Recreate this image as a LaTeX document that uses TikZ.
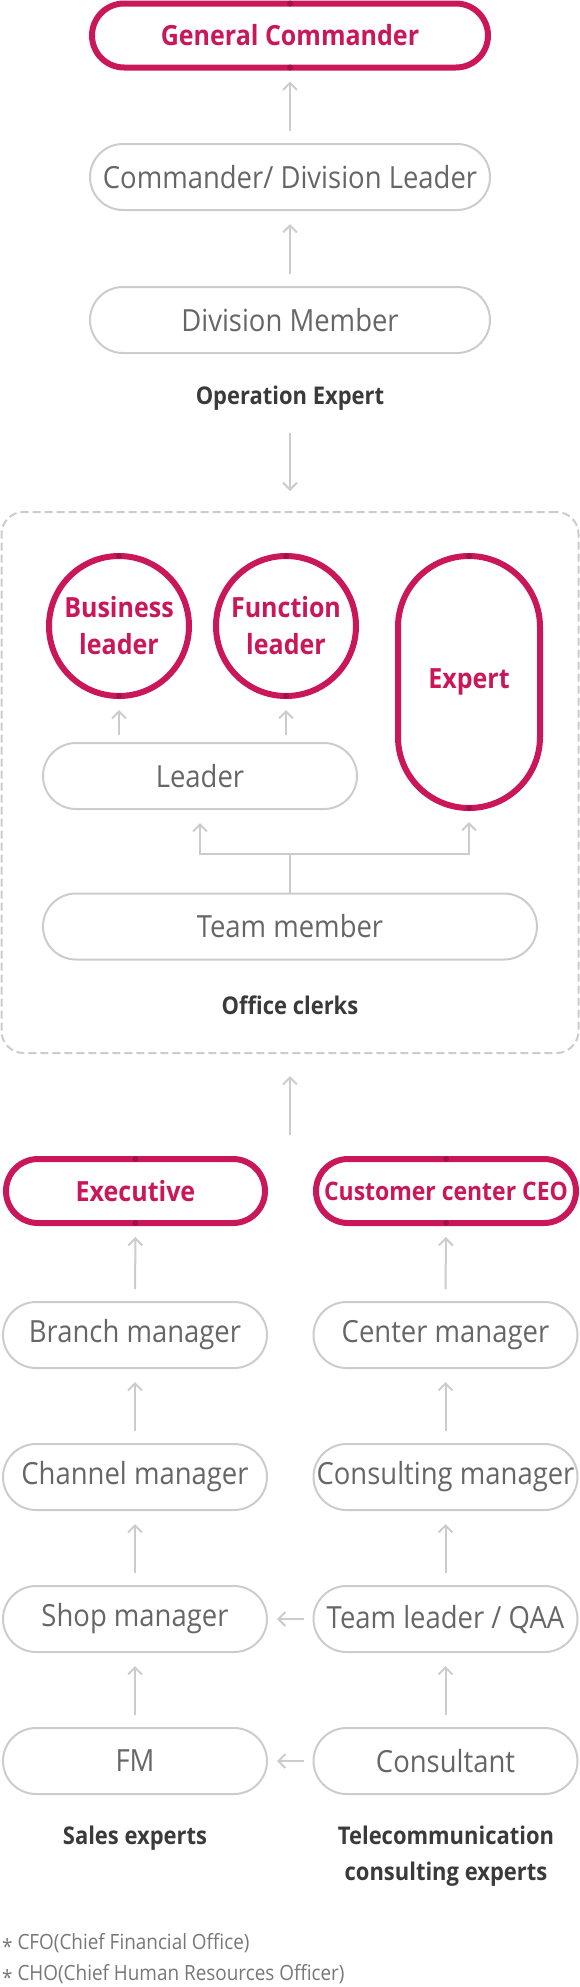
\documentclass[tikz,border=0pt]{standalone}
\usepackage{fontspec}
\setmainfont{Open Sans}[FakeStretch=0.9]
\usetikzlibrary{arrows.meta}
\definecolor{lgMagenta}{HTML}{C9175A}
\definecolor{lgDot}{HTML}{A3104A}
\definecolor{lgLine}{HTML}{CCCCCC}
\definecolor{lgText}{HTML}{666666}
\definecolor{lgLabel}{HTML}{3A3A3A}
\definecolor{lgNote}{HTML}{777777}

\begin{document}
\begin{tikzpicture}[x=1pt, y=-1pt, >={Straight Barb[length=7pt,width=14pt]},
  graybox/.style={draw=lgLine, line width=2pt, rounded corners=33pt, minimum height=66pt,
    inner sep=0pt, outer sep=0pt, text=lgText, font=\fontsize{30.5}{36}\selectfont},
  pinkbox/.style={draw=lgMagenta, line width=6pt, rounded corners=32pt, minimum height=64pt,
    inner sep=0pt, outer sep=0pt, text=lgMagenta, font=\fontsize{27.8}{37}\selectfont\bfseries},
  pinkround/.style={pinkbox, circle, sharp corners, minimum size=140pt, align=center},
  grouplabel/.style={text=lgLabel, font=\fontsize{24.4}{36}\selectfont\bfseries, align=center},
  notetext/.style={text=lgNote, font=\fontsize{21}{30}\selectfont, anchor=west, inner sep=0pt},
  uparrow/.style={->, draw=lgLine, line width=2pt, shorten <=13pt, shorten >=14pt}]
  \useasboundingbox (0,0) rectangle (580,1987);

  \node[pinkbox, minimum width=396pt] (gc) at (290,35.5) {General Commander};
  \node[graybox, minimum width=400pt] (cdl) at (290,177) {Commander/ Division Leader};
  \node[graybox, minimum width=400pt] (dm) at (290,320) {Division Member};
  \node[grouplabel] (opex) at (290,398) {Operation Expert};

  \node[draw=lgLine, line width=2pt, dash pattern=on 8pt off 4pt, rounded corners=22pt,
    minimum width=577pt, minimum height=541pt, outer sep=0pt] (office) at (290,782.5) {};
  \node[pinkround] (bl) at (119,626) {Business\\leader};
  \node[pinkround] (fl) at (286,626) {Function\\leader};
  \node[pinkbox, minimum width=142pt, minimum height=252pt, rounded corners=71pt] (ex) at (469,682) {Expert};
  \node[graybox, minimum width=314pt] (leader) at (200,776) {Leader};
  \node[graybox, minimum width=494pt] (team) at (290,926.5) {Team member};
  \node[grouplabel] (clerks) at (290,1005) {Office clerks};
  \coordinate (rise) at (290,1135);

  \node[pinkbox, minimum width=259pt] (exec) at (135.5,1191) {Executive};
  \node[pinkbox, minimum width=260pt, font=\fontsize{25.5}{32}\selectfont\bfseries] (ceo) at (446,1191) {Customer center CEO};
  \node[graybox, minimum width=264pt] (branch) at (135,1335) {Branch manager};
  \node[graybox, minimum width=264pt] (channel) at (135,1477) {Channel manager};
  \node[graybox, minimum width=264pt] (shop) at (135,1619) {Shop manager};
  \node[graybox, minimum width=264pt] (fm) at (135,1761) {FM};
  \node[graybox, minimum width=264pt] (centermgr) at (445.5,1335) {Center manager};
  \node[graybox, minimum width=264pt] (consulting) at (445.5,1477) {Consulting manager};
  \node[graybox, minimum width=264pt] (teamlead) at (445.5,1619) {Team leader / QAA};
  \node[graybox, minimum width=264pt] (consultant) at (445.5,1761) {Consultant};
  \node[grouplabel] (sales) at (135,1838) {Sales experts};
  \node[grouplabel] (telecom) at (446,1856) {Telecommunication\\consulting experts};

  \node[notetext] (note1) at (2,1944) {\raisebox{-5pt}{*} CFO(Chief Financial Office)};
  \node[notetext] (note2) at (2,1975) {\raisebox{-5pt}{*} CHO(Chief Human Resources Officer)};

  \foreach \n in {gc,bl,fl,ex,exec,ceo}
    \fill[lgDot] (\n.north) circle (3pt) (\n.south) circle (3pt);

  \draw[uparrow] (cdl) -- (gc);
  \draw[uparrow] (dm) -- (cdl);
  \draw[uparrow, shorten <=19pt, shorten >=21pt] (opex) -- (office.north);
  \draw[uparrow, shorten <=8pt] (leader.north -| bl) -- (bl);
  \draw[uparrow, shorten <=8pt] (leader.north -| fl) -- (fl);
  \draw[lgLine, line width=2pt] (team.north) -- ++(0,-40) coordinate (fork);
  \draw[uparrow, shorten <=0pt] (fork) -| (leader.south);
  \draw[uparrow, shorten <=0pt] (fork) -| (ex.south);
  \draw[uparrow, shorten <=0pt, shorten >=23pt] (rise) -- (office.south);

  \draw[uparrow] (branch) -- (exec);
  \draw[uparrow] (channel) -- (branch);
  \draw[uparrow] (shop) -- (channel);
  \draw[uparrow] (fm) -- (shop);
  \draw[uparrow] (centermgr) -- (ceo);
  \draw[uparrow] (consulting) -- (centermgr);
  \draw[uparrow] (teamlead) -- (consulting);
  \draw[uparrow] (consultant) -- (teamlead);
  \draw[uparrow, shorten <=10pt, shorten >=10pt] (teamlead) -- (shop);
  \draw[uparrow, shorten <=10pt, shorten >=10pt] (consultant) -- (fm);
\end{tikzpicture}
\end{document}
